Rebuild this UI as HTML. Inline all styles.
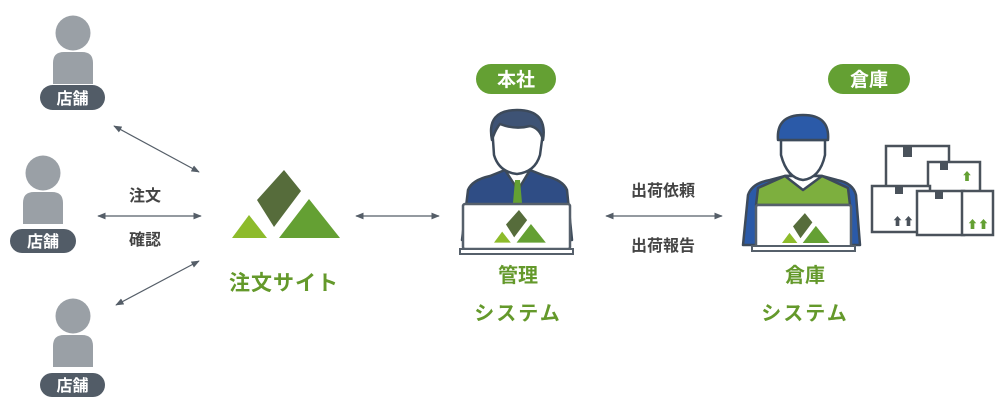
<!DOCTYPE html>
<html><head><meta charset="utf-8"><style>
body{margin:0;background:#fff;}
svg{display:block;font-family:"Liberation Sans","Noto Sans CJK JP",sans-serif;}
</style></head><body>
<svg width="1001" height="406" viewBox="0 0 1001 406" xmlns="http://www.w3.org/2000/svg">
<defs>
<marker id="ah" viewBox="0 0 10 10" refX="9" refY="5" markerWidth="7" markerHeight="7" orient="auto-start-reverse"><path d="M0,1 L10,5 L0,9 z" fill="#555e68"/></marker>
<g id="logo">
<polygon points="0,41 17,18 35,41" fill="#8dbb2b"/>
<polygon points="25,30 52,0 69,21 42,57" fill="#566c3b" transform="translate(0,-27)"/>
<polygon points="47,41 77,2 108,41" fill="#64a033"/>
</g>
<g id="store">
<circle cx="0" cy="0" r="17.5" fill="#9aa0a6"/>
<path d="M-20,51 L-20,30 Q-20,19 -9,19 L9,19 Q20,19 20,30 L20,51 z" fill="#9aa0a6"/>
</g>
</defs>

<!-- stores -->
<use href="#store" x="73" y="33"/>
<rect x="40" y="85" width="65" height="25" rx="12.5" fill="#525c67"/>
<text x="72.5" y="104" font-size="16" font-weight="bold" fill="#fff" text-anchor="middle">店舗</text>
<use href="#store" x="43" y="173"/>
<rect x="10" y="229" width="66" height="24" rx="12" fill="#525c67"/>
<text x="43" y="247" font-size="16" font-weight="bold" fill="#fff" text-anchor="middle">店舗</text>
<use href="#store" x="73" y="316"/>
<rect x="40" y="373" width="65" height="24" rx="12" fill="#525c67"/>
<text x="72.5" y="391" font-size="16" font-weight="bold" fill="#fff" text-anchor="middle">店舗</text>

<!-- arrows -->
<g stroke="#555e68" stroke-width="1.2" fill="none">
<line x1="114" y1="126" x2="199" y2="172" marker-start="url(#ah)" marker-end="url(#ah)"/>
<line x1="98" y1="216" x2="201" y2="216" marker-start="url(#ah)" marker-end="url(#ah)"/>
<line x1="116" y1="305" x2="199" y2="261" marker-start="url(#ah)" marker-end="url(#ah)"/>
<line x1="356" y1="216" x2="439" y2="216" marker-start="url(#ah)" marker-end="url(#ah)"/>
<line x1="606" y1="216" x2="722" y2="216" marker-start="url(#ah)" marker-end="url(#ah)"/>
</g>
<g font-size="16" font-weight="bold" fill="#444" text-anchor="middle">
<text x="145" y="201">注文</text>
<text x="145" y="245">確認</text>
<text x="663" y="196">出荷依頼</text>
<text x="663" y="251">出荷報告</text>
</g>

<!-- order site -->
<use href="#logo" x="232" y="197"/>
<text x="284" y="290" font-size="21" font-weight="bold" fill="#64992b" text-anchor="middle" letter-spacing="1">注文サイト</text>

<!-- HQ -->
<rect x="476" y="64" width="80" height="30" rx="15" fill="#64a033"/>
<text x="516" y="86" font-size="19" font-weight="bold" fill="#fff" text-anchor="middle">本社</text>
<g stroke="#3d4a5a" stroke-width="2.5" stroke-linejoin="round">
<path d="M462,240 L468,190 Q472,180 490,176 L505,170 L530,170 L545,176 Q563,180 567,190 L572,240 z" fill="#2f4d85"/>
<path d="M505,170 L518,190 L530,170 z" fill="#fff"/>
<path d="M493,140 Q490,112 517,112 Q545,112 542,140 L540,155 Q535,172 517,174 Q499,172 494,155 z" fill="#fff"/>
<path d="M492,140 Q486,110 517,110 Q548,110 543,140 Q540,128 530,126 Q515,130 500,124 Q495,130 492,140 z" fill="#3e5375"/>
</g>
<path d="M515,180 L520,180 L522,203 L513,203 z" fill="#64a033"/>
<rect x="463" y="204" width="107" height="45" rx="2" fill="#fff" stroke="#56606b" stroke-width="2.5"/>
<rect x="460" y="249" width="113" height="5" fill="#fff" stroke="#56606b" stroke-width="2"/>
<g transform="translate(494,223) scale(0.48)"><use href="#logo" x="0" y="0"/></g>
<text x="518" y="282" font-size="20" font-weight="bold" fill="#64992b" text-anchor="middle">管理</text>
<text x="518" y="320" font-size="20" font-weight="bold" fill="#64992b" text-anchor="middle" letter-spacing="2">システム</text>

<!-- Warehouse -->
<rect x="828" y="64" width="82" height="30" rx="15" fill="#64a033"/>
<text x="869" y="86" font-size="19" font-weight="bold" fill="#fff" text-anchor="middle">倉庫</text>
<g stroke="#3d4a5a" stroke-width="2.5" stroke-linejoin="round">
<path d="M743,245 L748,195 Q752,183 770,180 L785,176 L822,176 L837,180 Q853,183 856,195 L860,245 z" fill="#2b5aa8"/>
<path d="M758,188 L785,176 L822,176 L848,188 L850,205 L756,205 z" fill="#7daf3e"/>
<path d="M785,176 L803,190 L822,176 z" fill="#fff"/>
<path d="M781,140 L781,155 Q787,178 803,180 Q820,178 825,155 L825,140 z" fill="#fff"/>
<path d="M778,140 Q776,115 803,115 Q830,115 828,140 z" fill="#2b5aa8"/>
</g>
<rect x="756" y="205" width="95" height="42" rx="2" fill="#fff" stroke="#56606b" stroke-width="2.5"/>
<rect x="752" y="246" width="103" height="5" fill="#fff" stroke="#56606b" stroke-width="2"/>
<g transform="translate(782,225) scale(0.44)"><use href="#logo" x="0" y="0"/></g>
<text x="805" y="282" font-size="20" font-weight="bold" fill="#64992b" text-anchor="middle">倉庫</text>
<text x="805" y="320" font-size="20" font-weight="bold" fill="#64992b" text-anchor="middle" letter-spacing="2">システム</text>

<!-- boxes -->
<g stroke="#4a525b" stroke-width="2.5" fill="#fff">
<rect x="886" y="146" width="63" height="45"/>
<rect x="928" y="162" width="52" height="30"/>
<rect x="872" y="186" width="58" height="46"/>
<rect x="917" y="191" width="47" height="44"/>
<rect x="962" y="191" width="31" height="44"/>
</g>
<g fill="#4a525b">
<rect x="903" y="146" width="9" height="11"/>
<rect x="940" y="162" width="8" height="8"/>
<rect x="895" y="186" width="8" height="8"/>
<rect x="935" y="191" width="8" height="8"/>
<text x="903" y="225" font-size="11" font-weight="bold" text-anchor="middle">⬆⬆</text>
</g>
<g fill="#64a033">
<text x="967" y="180" font-size="11" font-weight="bold" text-anchor="middle">⬆</text>
<text x="978" y="228" font-size="11" font-weight="bold" text-anchor="middle">⬆⬆</text>
</g>
</svg>
</body></html>
